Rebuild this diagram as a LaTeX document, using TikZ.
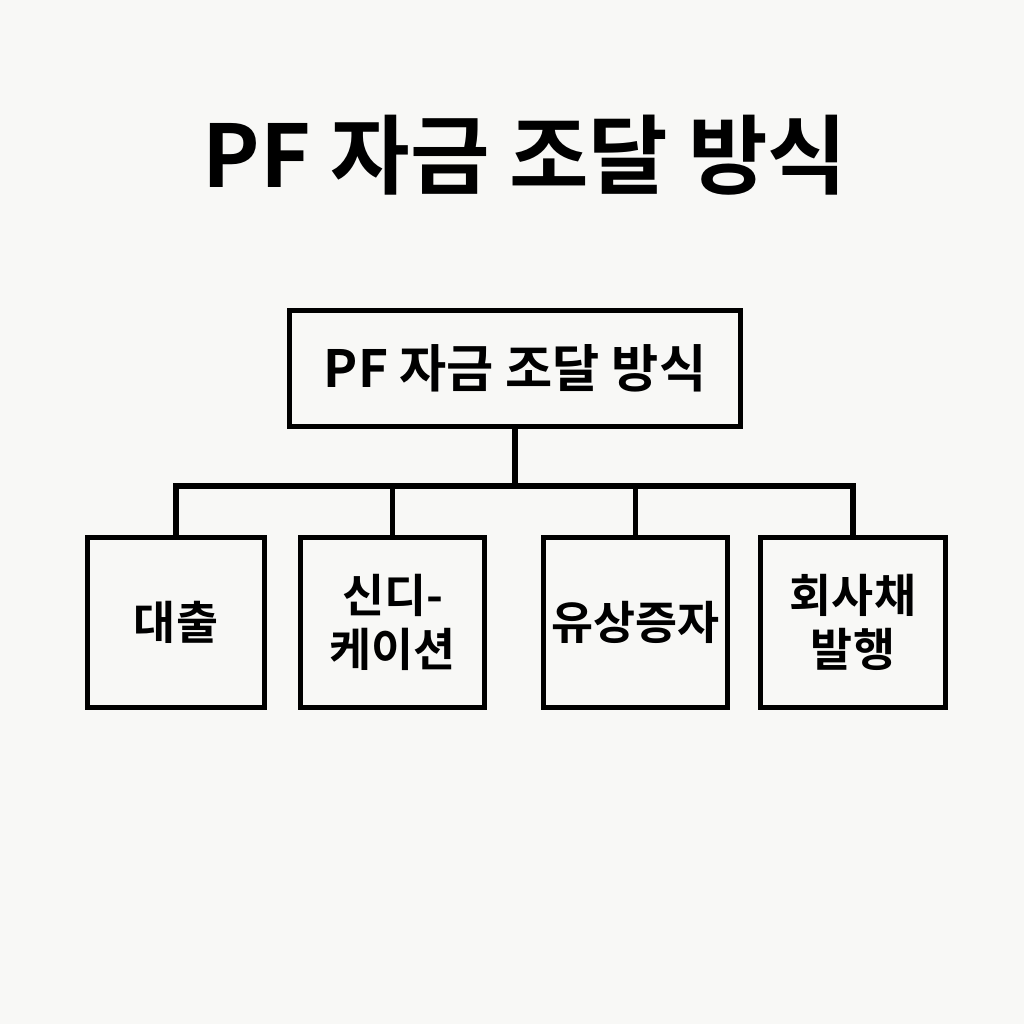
\documentclass[tikz,border=0pt]{standalone}
\usepackage{fontspec}
\setmainfont{Noto Sans CJK KR}[BoldFont={* Bold}]
\usepackage{tikz}

\definecolor{paper}{HTML}{F8F8F6}

\tikzset{
  box/.style={draw, line width=1.5pt, align=center, font=\bfseries\fontsize{13}{15.5}\selectfont,
    minimum height=1.7cm, inner sep=2pt},
  link/.style={line width=1.5pt}
}

\begin{document}
\begin{tikzpicture}
      \fill[paper] (0,0) rectangle (10.24,-10.24);
      \useasboundingbox (0,0) rectangle (10.24,-10.24);
      \node (title) at (5.25,-1.55) {\bfseries\fontsize{24.6}{30}\selectfont PF 자금 조달 방식};
      \node[box, minimum width=4.51cm, minimum height=1.16cm, font=\bfseries\fontsize{14.6}{18}\selectfont] (root) at (5.15,-3.685) {PF 자금 조달 방식};
      \node[box, minimum width=1.77cm] (loan) at (1.76,-6.225) {대출};
      \node[box, minimum width=1.84cm] (synd) at (3.925,-6.225) {신디-\\케이션};
      \node[box, minimum width=1.84cm] (equity) at (6.355,-6.225) {유상증자};
      \node[box, minimum width=1.85cm] (bond) at (8.53,-6.225) {회사채\\발행};
      \coordinate (bus) at (5.15,-4.86);
      \draw[link] (root.south) -- (bus);
      \draw[link] (loan.north) -- (loan.north |- bus) -- (bond.north |- bus) -- (bond.north);
      \draw[link] (synd.north) -- (synd.north |- bus);
      \draw[link] (equity.north) -- (equity.north |- bus);
\end{tikzpicture}
\end{document}
